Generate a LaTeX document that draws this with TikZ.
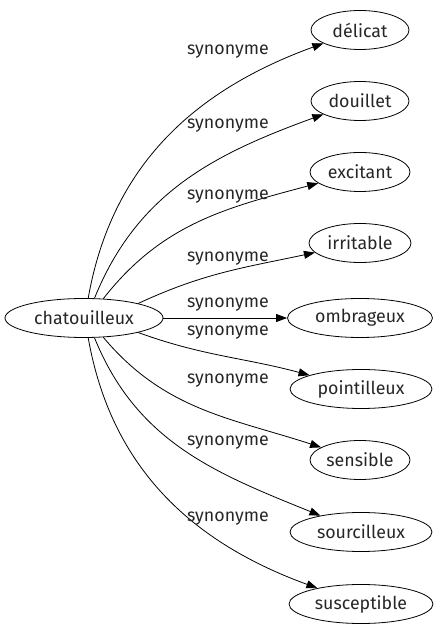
\documentclass[tikz,border=0pt]{standalone}
\usepackage{fontspec}
\setmainfont{Fira Sans}
\usetikzlibrary{shapes.geometric,arrows.meta}
\begin{document}
\begin{tikzpicture}[x=1pt,y=1pt,
  word/.style={ellipse,draw,line width=0.8pt,minimum height=39pt,inner sep=0pt,text=black!85,font=\fontsize{17.8}{20}\selectfont},
  lbl/.style={font=\fontsize{17.8}{20}\selectfont,text=black!85,inner sep=0pt},
  syn/.style={-{Triangle[length=11pt,width=8pt]},line width=0.8pt}]
\useasboundingbox (0,0) rectangle (437,635);
\node[word,minimum width=158pt] (src) at (84,317) {chatouilleux};
\node[word,minimum width=98pt] (t1) at (360,605) {délicat};
\node[word,minimum width=98pt] (t2) at (360,534) {douillet};
\node[word,minimum width=100pt] (t3) at (360,463) {excitant};
\node[word,minimum width=102pt] (t4) at (360,392) {irritable};
\node[word,minimum width=145pt] (t5) at (360,317) {ombrageux};
\node[word,minimum width=142pt] (t6) at (361,246) {pointilleux};
\node[word,minimum width=100pt] (t7) at (360,175) {sensible};
\node[word,minimum width=142pt] (t8) at (361,103) {sourcilleux};
\node[word,minimum width=144pt] (t9) at (361,31) {susceptible};
\draw[syn] (src.78) to[out=80,in=200] (t1);
\draw[syn] (src.62) to[out=68,in=200] (t2);
\draw[syn] (src.45) to[out=52,in=195] (t3);
\draw[syn] (src.15) to[out=25,in=192] (t4);
\draw[syn] (src) -- (t5);
\draw[syn] (src.-15) to[out=-20,in=165] (t6);
\draw[syn] (src.-45) to[out=-50,in=162] (t7);
\draw[syn] (src.-62) to[out=-68,in=158] (t8);
\draw[syn] (src.-78) to[out=-80,in=160] (t9);
\node[lbl] (l1) at (228,583) {synonyme};
\node[lbl] (l2) at (228,509) {synonyme};
\node[lbl] (l3) at (228,438) {synonyme};
\node[lbl] (l4) at (228,376) {synonyme};
\node[lbl] (l5) at (228,330) {synonyme};
\node[lbl] (l6) at (228,302) {synonyme};
\node[lbl] (l7) at (228,254) {synonyme};
\node[lbl] (l8) at (228,192) {synonyme};
\node[lbl] (l9) at (228,116) {synonyme};
\end{tikzpicture}
\end{document}
